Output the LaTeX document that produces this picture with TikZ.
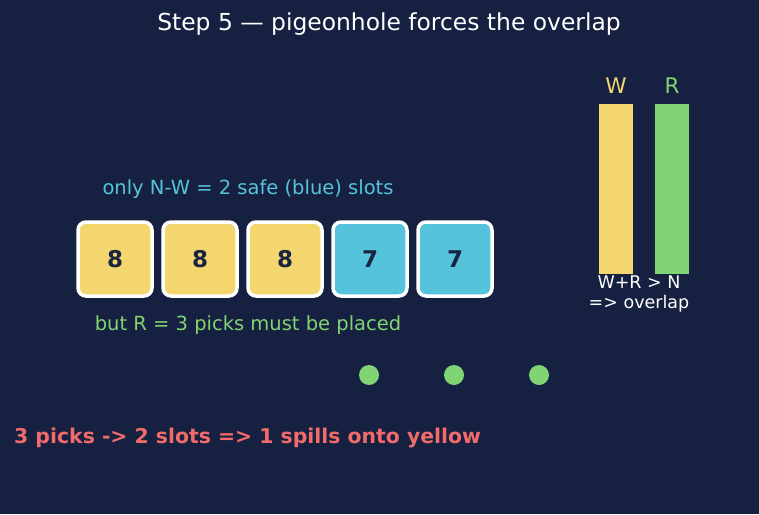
\documentclass[tikz,border=0pt]{standalone}
\usepackage{fontspec}
\setmainfont{DejaVu Sans}
\definecolor{bgnavy}{HTML}{162040}
\definecolor{wyellow}{HTML}{F4D66E}
\definecolor{sblue}{HTML}{56C3DD}
\definecolor{rgreen}{HTML}{80D473}
\definecolor{spillred}{HTML}{F26B6B}
\definecolor{inknavy}{HTML}{1A2340}
\tikzset{
  slot/.style={draw=white, line width=3.5pt, rounded corners=8pt, minimum size=74pt,
    inner sep=0pt, text=inknavy, font=\fontsize{23}{27}\selectfont\bfseries},
  bar/.style={minimum width=34pt, minimum height=170pt, inner sep=0pt},
  pick/.style={circle, fill=rgreen, minimum size=20pt, inner sep=0pt}
}
\begin{document}
\begin{tikzpicture}[x=1pt,y=-1pt]
  \fill[bgnavy] (0,0) rectangle (759,514);
  \useasboundingbox (0,0) rectangle (759,514);
  % Title
  \node[text=white, font=\fontsize{23.4}{28}\selectfont] (title) at (389,24) {Step 5 — pigeonhole forces the overlap};
  % Slots: three yellow, two blue
  \foreach \i/\v/\c in {1/8/wyellow,2/8/wyellow,3/8/wyellow,4/7/sblue,5/7/sblue}
    \node[slot, fill=\c] (s\i) at ({30+85*\i},259) {\v};
  \node[text=sblue, font=\fontsize{19.5}{23}\selectfont] (safe) at (248,189) {only N-W = 2 safe (blue) slots};
  \node[text=rgreen, font=\fontsize{19.5}{23}\selectfont] (must) at (248,325) {but R = 3 picks must be placed};
  % Picks
  \foreach \i in {1,2,3}
    \node[pick] (p\i) at ({284+85*\i},375) {};
  % Bars W and R
  \node[bar, fill=wyellow] (barW) at (616,189) {};
  \node[bar, fill=rgreen] (barR) at (672,189) {};
  \node[text=wyellow, font=\fontsize{21.5}{26}\selectfont] (labW) at (616,86) {W};
  \node[text=rgreen, font=\fontsize{21.5}{26}\selectfont] (labR) at (672,86) {R};
  \node[text=white, font=\fontsize{17.5}{20.5}\selectfont, align=center] (sum) at (639,294) {W+R > N\\=> overlap};
  % Conclusion
  \node[text=spillred, font=\fontsize{20.4}{24}\selectfont\bfseries, anchor=west, inner sep=0pt] (spill) at (14,438) {3 picks -> 2 slots => 1 spills onto yellow};
\end{tikzpicture}
\end{document}
